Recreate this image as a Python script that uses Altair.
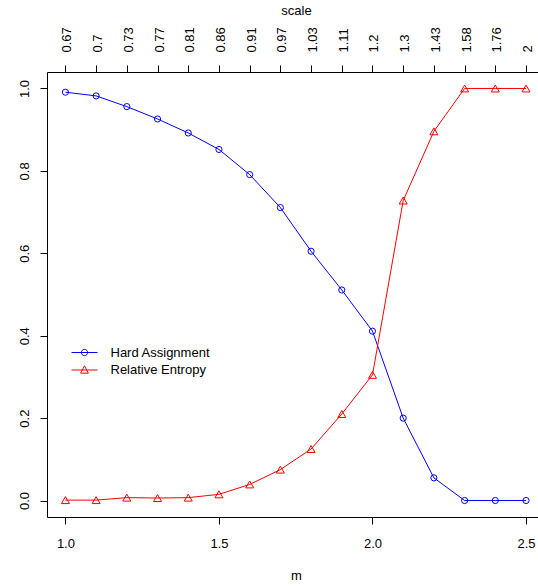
import altair as alt
import pandas as pd

# ---- data ----
m_values = [1.0, 1.1, 1.2, 1.3, 1.4, 1.5, 1.6, 1.7, 1.8, 1.9, 2.0, 2.1, 2.2, 2.3, 2.4, 2.5]
hard_assignment = [0.991, 0.982, 0.956, 0.926, 0.892, 0.852, 0.791, 0.711,
                   0.605, 0.511, 0.411, 0.200, 0.055, 0.0, 0.0, 0.0]
relative_entropy = [0.001, 0.001, 0.007, 0.006, 0.007, 0.015, 0.039, 0.075,
                    0.125, 0.210, 0.305, 0.728, 0.896, 1.0, 1.0, 1.0]
scale_labels = ["0.67", "0.7", "0.73", "0.77", "0.81", "0.86", "0.91", "0.97",
                "1.03", "1.11", "1.2", "1.3", "1.43", "1.58", "1.76", "2"]
series_names = ["Hard Assignment", "Relative Entropy"]
series_colors = ["#0000FF", "#FF0000"]
x_ticks = [1.0, 1.5, 2.0, 2.5]
y_ticks = [0.0, 0.2, 0.4, 0.6, 0.8, 1.0]

rows = []
for i, m in enumerate(m_values):
    rows.append({"m": m, "value": hard_assignment[i], "series": series_names[0]})
    rows.append({"m": m, "value": relative_entropy[i], "series": series_names[1]})
df = pd.DataFrame(rows)

FONT = "Liberation Sans"
FS = 13

x_scale = alt.Scale(domain=[0.94, 2.539], nice=False, zero=False)
y_scale = alt.Scale(domain=[-0.04, 1.04], nice=False, zero=False)

bottom_axis = alt.Axis(values=x_ticks, format=".1f", title="m", grid=False, domain=False,
                       tickSize=7, labelPadding=13, labelAngle=0, labelAlign="center",
                       labelBaseline="top", titleY=62, titleBaseline="alphabetic",
                       titleX=249, titleAlign="center")
left_axis = alt.Axis(values=y_ticks, format=".1f", title=None, grid=False, domain=False,
                     tickSize=7, labelPadding=12, labelAngle=-90, labelAlign="center",
                     labelBaseline="alphabetic")
label_expr = "[" + ",".join("'%s'" % s for s in scale_labels) + "][round((datum.value-1)*10)]"
top_axis = alt.Axis(orient="top", values=m_values, labelExpr=label_expr, title="scale",
                    grid=False, domain=False, tickSize=7, labelPadding=13, labelAngle=-90,
                    labelAlign="left", labelBaseline="middle", labelOffset=1.5,
                    titleY=-58, titleBaseline="alphabetic", titleX=249, titleAlign="center")

base = alt.Chart(df)

def series_filter(name):
    return alt.datum.series == name

line_hard = base.transform_filter(series_filter(series_names[0])).mark_line(
    color=series_colors[0], strokeWidth=1).encode(
    x=alt.X("m:Q", scale=x_scale, axis=bottom_axis),
    y=alt.Y("value:Q", scale=y_scale, axis=left_axis))
line_rel = base.transform_filter(series_filter(series_names[1])).mark_line(
    color=series_colors[1], strokeWidth=1).encode(
    x=alt.X("m:Q", scale=x_scale, axis=None),
    y=alt.Y("value:Q", scale=y_scale, axis=None))
pts_hard = base.transform_filter(series_filter(series_names[0])).mark_point(
    shape="circle", color=series_colors[0], filled=False, size=38, strokeWidth=1, opacity=1).encode(
    x=alt.X("m:Q", scale=x_scale, axis=None),
    y=alt.Y("value:Q", scale=y_scale, axis=None))
pts_rel = base.transform_filter(series_filter(series_names[1])).mark_point(
    shape="triangle-up", color=series_colors[1], filled=False, size=64, strokeWidth=1, opacity=1).encode(
    x=alt.X("m:Q", scale=x_scale, axis=None),
    y=alt.Y("value:Q", scale=y_scale, axis=None))

circle_path = ("M-1.857,0L1.857,0M-0.45,0A0.45,0.45,0,1,0,0.45,0"
               "A0.45,0.45,0,1,0,-0.45,0")
triangle_path = "M-1.857,0L1.857,0M0,-0.6L-0.55,0.45L0.55,0.45Z"

legend = alt.Legend(title=None, orient="none", legendX=30, legendY=273, padding=0,
                    symbolSize=196, symbolStrokeWidth=1, symbolOpacity=1,
                    labelOffset=18.5, rowPadding=2.5, labelFont=FONT, labelFontSize=FS,
                    labelColor="black", labelBaseline="middle")
legend_layer = base.mark_point(filled=False, opacity=0).encode(
    x=alt.X("m:Q", scale=x_scale, axis=top_axis),
    y=alt.Y("value:Q", scale=y_scale, axis=None),
    shape=alt.Shape("series:N", scale=alt.Scale(domain=series_names,
                                                range=[circle_path, triangle_path]),
                    legend=legend),
    color=alt.Color("series:N", scale=alt.Scale(domain=series_names, range=series_colors),
                    legend=legend))

chart = alt.layer(line_hard, line_rel, pts_hard, pts_rel, legend_layer).resolve_axis(
    x="independent", y="independent"
).properties(
    width=491, height=445,
    autosize=alt.AutoSizeParams(type="none"),
    padding={"left": 47, "top": 72, "right": 0, "bottom": 70},
    background="white",
).configure_view(stroke="black", strokeWidth=1).configure_axis(
    labelFont=FONT, labelFontSize=FS, labelColor="black", tickColor="black",
    titleFont=FONT, titleFontSize=FS, titleFontWeight="normal", titleColor="black",
    tickWidth=1
)

chart.save("out.html", embed_options={"renderer": "svg", "actions": False})
